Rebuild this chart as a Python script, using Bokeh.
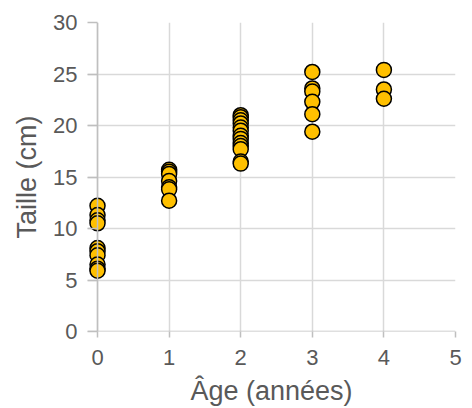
from bokeh.plotting import figure
from bokeh.models import Range1d, FixedTicker, Span
from bokeh.embed import file_html
from bokeh.resources import INLINE

age = [0, 0, 0, 0, 0, 0, 0, 0, 0, 0,
       1, 1, 1, 1, 1, 1, 1,
       2, 2, 2, 2, 2, 2, 2, 2, 2, 2, 2, 2, 2,
       3, 3, 3, 3, 3, 3,
       4, 4, 4]
taille = [12.2, 11.3, 10.8, 10.5, 8.1, 7.8, 7.4, 6.5, 6.1, 5.9,
          15.7, 15.5, 15.3, 14.6, 14.0, 13.8, 12.7,
          21.0, 20.8, 20.5, 20.2, 19.8, 19.5, 19.0, 18.7, 18.3, 18.0, 17.7, 16.5, 16.3,
          25.2, 23.6, 23.3, 22.3, 21.1, 19.4,
          25.4, 23.5, 22.6]
x_ticks = [0, 1, 2, 3, 4, 5]
y_ticks = [0, 5, 10, 15, 20, 25, 30]

p = figure(width=466, height=408, output_backend="svg", toolbar_location=None,
           x_range=Range1d(-0.14, 5), y_range=Range1d(0, 30),
           min_border_left=87, min_border_right=11, min_border_top=22, min_border_bottom=77)
p.outline_line_color = None

p.xgrid.ticker = FixedTicker(ticks=x_ticks)
p.ygrid.ticker = FixedTicker(ticks=y_ticks)
p.grid.grid_line_color = "#d9d9d9"
p.grid.grid_line_width = 1.5

p.add_layout(Span(location=0, dimension="height", line_color="#bfbfbf", line_width=1.5))
p.add_layout(Span(location=0, dimension="width", line_color="#bfbfbf", line_width=1.5))

p.scatter(age, taille, size=15, fill_color="#ffc000", line_color="black", line_width=1.5)

for ax in (p.xaxis[0], p.yaxis[0]):
    ax.axis_line_color = None
    ax.major_tick_line_color = "#bfbfbf"
    ax.major_tick_line_width = 1.5
    ax.minor_tick_line_color = None
    ax.major_label_text_font = "Liberation Sans"
    ax.major_label_text_font_size = "22px"
    ax.major_label_text_color = "#595959"
    ax.axis_label_text_font = "Liberation Sans"
    ax.axis_label_text_font_size = "27px"
    ax.axis_label_text_font_style = "normal"
    ax.axis_label_text_color = "#595959"

p.xaxis.major_tick_out = 6
p.xaxis.major_tick_in = 0
p.xaxis.major_label_standoff = 12
p.xaxis.axis_label_standoff = 8
p.xaxis.major_label_text_line_height = 0.8
p.xaxis.axis_label_text_line_height = 0.8
p.yaxis.major_tick_out = 0
p.yaxis.major_tick_in = 10
p.yaxis.major_label_standoff = 10
p.yaxis.axis_label_standoff = 8

p.xaxis.ticker = FixedTicker(ticks=x_ticks)
p.yaxis.ticker = FixedTicker(ticks=y_ticks)
p.xaxis.axis_label = "Âge (années)"
p.yaxis.axis_label = "Taille (cm)"

open("out.html", "w").write(file_html(p, INLINE))
